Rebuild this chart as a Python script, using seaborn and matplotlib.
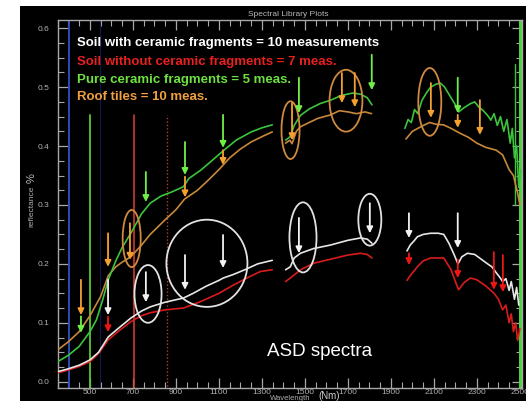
import numpy as np
import pandas as pd
import matplotlib
matplotlib.use("Agg")
import matplotlib.pyplot as plt
import seaborn as sns
from matplotlib.patches import Ellipse, Rectangle
from matplotlib.ticker import FixedLocator, MultipleLocator

# ---------------- data ----------------
series_names = ["Soil with ceramic fragments", "Soil without ceramic fragments",
                "Pure ceramic fragments", "Roof tiles"]
legend_labels = ["Soil with ceramic fragments = 10 measurements",
                 "Soil without ceramic fragments = 7 meas.",
                 "Pure ceramic fragments = 5 meas.",
                 "Roof tiles = 10 meas."]

# Roof tiles (orange)
orange_nm1 = [350, 400, 450, 500, 550, 585, 620, 650, 690, 740, 780, 850, 900, 940, 1000, 1050, 1100, 1120, 1150, 1200, 1250, 1300, 1348]
orange_r1 = [0.054, 0.068, 0.085, 0.112, 0.145, 0.180, 0.195, 0.203, 0.212, 0.232, 0.250, 0.275, 0.292, 0.310, 0.325, 0.342, 0.360, 0.368, 0.380, 0.395, 0.407, 0.416, 0.424]
orange_nm2 = [1410, 1430, 1440, 1460, 1480, 1520, 1560, 1620, 1660, 1700, 1740, 1780, 1810]
orange_r2 = [0.405, 0.410, 0.404, 0.425, 0.433, 0.440, 0.447, 0.453, 0.460, 0.458, 0.455, 0.458, 0.455]
orange_nm3 = [1970, 2000, 2040, 2080, 2110, 2145, 2180, 2220, 2260, 2300, 2340, 2390, 2420, 2450, 2470, 2490, 2500]
orange_r3 = [0.412, 0.425, 0.433, 0.440, 0.437, 0.436, 0.430, 0.422, 0.415, 0.405, 0.398, 0.393, 0.385, 0.360, 0.350, 0.320, 0.300]

# Pure ceramic fragments (green)
green_nm1 = [350, 400, 450, 500, 530, 560, 585, 620, 650, 690, 740, 780, 830, 880, 935, 960, 1015, 1060, 1120, 1180, 1250, 1300, 1348]
green_r1 = [0.034, 0.045, 0.060, 0.085, 0.105, 0.140, 0.173, 0.205, 0.228, 0.252, 0.285, 0.303, 0.315, 0.322, 0.331, 0.345, 0.359, 0.373, 0.392, 0.410, 0.424, 0.431, 0.436]
green_nm2 = [1410, 1432, 1450, 1479, 1520, 1570, 1620, 1670, 1723, 1760, 1790, 1812]
green_r2 = [0.410, 0.416, 0.435, 0.452, 0.463, 0.472, 0.478, 0.486, 0.490, 0.488, 0.482, 0.470]
green_nm3 = [1965, 1980, 1995, 2010, 2025, 2045, 2065, 2085, 2110, 2130, 2150, 2175, 2200, 2215, 2240, 2270, 2290, 2310, 2330, 2350, 2365, 2380, 2395, 2410, 2425, 2440, 2455, 2465, 2475, 2485, 2495, 2505]
green_r3 = [0.430, 0.445, 0.440, 0.462, 0.455, 0.478, 0.490, 0.500, 0.505, 0.507, 0.500, 0.485, 0.470, 0.458, 0.465, 0.472, 0.475, 0.466, 0.460, 0.452, 0.444, 0.455, 0.435, 0.450, 0.425, 0.445, 0.405, 0.430, 0.380, 0.400, 0.330, 0.360]

# Soil with ceramic fragments (white)
white_nm1 = [350, 400, 450, 500, 540, 585, 630, 690, 740, 780, 850, 935, 980, 1015, 1040, 1100, 1120, 1167, 1220, 1280, 1348]
white_r1 = [0.017, 0.022, 0.028, 0.037, 0.050, 0.076, 0.090, 0.108, 0.120, 0.127, 0.135, 0.142, 0.150, 0.157, 0.162, 0.172, 0.176, 0.182, 0.190, 0.200, 0.206]
white_nm2 = [1410, 1432, 1450, 1479, 1540, 1619, 1700, 1758, 1790, 1812]
white_r2 = [0.190, 0.195, 0.210, 0.218, 0.226, 0.232, 0.240, 0.244, 0.242, 0.235]
white_nm3 = [1975, 1990, 2010, 2023, 2050, 2085, 2120, 2146, 2170, 2195, 2212, 2230, 2256, 2290, 2320, 2350, 2370, 2390, 2405, 2420, 2435, 2450, 2460, 2475, 2485, 2495]
white_r3 = [0.222, 0.232, 0.240, 0.246, 0.250, 0.252, 0.252, 0.250, 0.235, 0.215, 0.200, 0.212, 0.218, 0.216, 0.208, 0.200, 0.195, 0.185, 0.178, 0.170, 0.175, 0.155, 0.170, 0.140, 0.160, 0.130]

# Soil without ceramic fragments (red)
red_nm1 = [350, 400, 450, 500, 540, 585, 630, 690, 740, 780, 850, 935, 1015, 1100, 1167, 1230, 1292, 1348]
red_r1 = [0.015, 0.020, 0.026, 0.034, 0.048, 0.071, 0.085, 0.102, 0.112, 0.117, 0.122, 0.125, 0.136, 0.150, 0.164, 0.176, 0.187, 0.190]
red_nm2 = [1410, 1432, 1480, 1540, 1620, 1700, 1758, 1790, 1812]
red_r2 = [0.170, 0.176, 0.190, 0.201, 0.208, 0.215, 0.218, 0.216, 0.210]
red_nm3 = [1975, 1990, 2023, 2050, 2085, 2146, 2180, 2200, 2215, 2240, 2270, 2300, 2340, 2380, 2400, 2420, 2435, 2450, 2460, 2470, 2480, 2490, 2500]
red_r3 = [0.172, 0.180, 0.195, 0.205, 0.210, 0.210, 0.190, 0.170, 0.156, 0.168, 0.176, 0.173, 0.163, 0.150, 0.140, 0.122, 0.130, 0.100, 0.115, 0.085, 0.100, 0.070, 0.090]

# annotation arrows: wavelength, start reflectance, end reflectance, kind
arrow_nm = [458, 458, 584, 584, 584, 686, 760, 760, 942, 942, 942, 1119, 1119, 1119,
            1440, 1472, 1672, 1732, 1811, 1472, 1802, 2086, 2211, 2211, 2314,
            1984, 1984, 2211, 2211, 2379, 2421]
arrow_y0 = [0.173, 0.111, 0.252, 0.173, 0.110, 0.269, 0.356, 0.186, 0.407, 0.348, 0.215, 0.453, 0.393, 0.249,
            0.473, 0.516, 0.524, 0.524, 0.555, 0.278, 0.303, 0.507, 0.516, 0.453, 0.478,
            0.286, 0.218, 0.286, 0.207, 0.220, 0.215]
arrow_y1 = [0.113, 0.083, 0.195, 0.113, 0.084, 0.207, 0.305, 0.135, 0.351, 0.313, 0.156, 0.397, 0.368, 0.193,
            0.410, 0.456, 0.473, 0.466, 0.495, 0.218, 0.252, 0.448, 0.456, 0.431, 0.419,
            0.244, 0.198, 0.227, 0.176, 0.156, 0.152]
arrow_kind = ["o", "g", "o", "w", "r", "o", "g", "w", "g", "o", "w", "g", "o", "w",
              "o", "g", "o", "o", "g", "w", "w", "o", "g", "o", "o",
              "w", "r", "w", "r", "r", "r"]

# ellipses: centre wavelength, centre reflectance, width (nm), height, kind
ell_nm = [694, 770, 1044, 1433, 1691, 1491, 1802, 2081]
ell_r = [0.243, 0.149, 0.201, 0.427, 0.477, 0.245, 0.275, 0.475]
ell_w = [84, 126, 377, 84, 153, 126, 107, 107]
ell_h = [0.097, 0.098, 0.148, 0.098, 0.105, 0.119, 0.088, 0.115]
ell_kind = ["o", "w", "w", "o", "o", "w", "w", "o"]

x_major = [500, 700, 900, 1100, 1300, 1500, 1700, 1900, 2100, 2300, 2500]
y_major = [0.0, 0.1, 0.2, 0.3, 0.4, 0.5, 0.6]

# ---------------- styling ----------------
line_colors = {"Soil with ceramic fragments": "#e6e6e6",
               "Soil without ceramic fragments": "#d81c1c",
               "Pure ceramic fragments": "#3cc43c",
               "Roof tiles": "#c8883a"}
mark_colors = {"o": "#f4a030", "g": "#70ee48", "w": "#f2f2f2", "r": "#ee1515"}
ell_colors = {"o": "#d08a40", "w": "#e2e2e2"}
text_colors = ["#ffffff", "#e82020", "#6ee040", "#f0a040"]

sns.set_theme(style="dark")
plt.rcParams["font.family"] = ["Liberation Sans", "DejaVu Sans"]

rows = []
groups = [
    ("Roof tiles", [(orange_nm1, orange_r1), (orange_nm2, orange_r2), (orange_nm3, orange_r3)]),
    ("Pure ceramic fragments", [(green_nm1, green_r1), (green_nm2, green_r2), (green_nm3, green_r3)]),
    ("Soil without ceramic fragments", [(red_nm1, red_r1), (red_nm2, red_r2), (red_nm3, red_r3)]),
    ("Soil with ceramic fragments", [(white_nm1, white_r1), (white_nm2, white_r2), (white_nm3, white_r3)]),
]
for name, segs in groups:
    for si, (xs, ys) in enumerate(segs):
        for xv, yv in zip(xs, ys):
            rows.append({"nm": xv, "refl": yv, "series": name, "seg": f"{name}-{si}"})
df = pd.DataFrame(rows)

W, H = 526, 401
fig = plt.figure(figsize=(W / 100, H / 100), dpi=100, facecolor="white")
bg = Rectangle((20 / W, 0), 1 - 20 / W, (H - 6) / H, transform=fig.transFigure,
               facecolor="black", edgecolor="none", zorder=-10)
fig.patches.append(bg)
ax = fig.add_axes([57.75 / W, 13 / H, (522 - 57.75) / W, (388 - 20) / H])
ax.set_zorder(1)
ax.set_facecolor("black")

# vertical reference lines
ax.axvline(402, color="#3050c8", lw=1.3, zorder=1)
ax.axvline(547, color="#101850", lw=0.8, zorder=1)
ax.plot([502, 502], [-0.02, 0.453], color="#58c838", lw=1.3, zorder=1)
ax.plot([705, 705], [-0.02, 0.453], color="#e04030", lw=1.1, zorder=1)
ax.plot([860, 860], [-0.02, 0.453], color="#b04030", lw=1.0, ls=(0, (1, 1.5)), zorder=1)
ax.plot([2478, 2478], [0.30, 0.54], color="#40c040", lw=1.0, zorder=1)
ax.axvline(2503, color="#50d040", lw=2.2, zorder=1)

sns.lineplot(data=df, x="nm", y="refl", hue="series", units="seg", estimator=None,
             palette=line_colors, lw=1.2, legend=False, ax=ax, zorder=3)

for x, y0, y1, k in zip(arrow_nm, arrow_y0, arrow_y1, arrow_kind):
    ax.annotate("", xy=(x, y1), xytext=(x, y0),
                arrowprops=dict(arrowstyle="-|>", color=mark_colors[k], lw=1.3,
                                mutation_scale=9, shrinkA=0, shrinkB=0), zorder=5)

for x, y, w, h, k in zip(ell_nm, ell_r, ell_w, ell_h, ell_kind):
    ax.add_patch(Ellipse((x, y), w, h, fill=False, edgecolor=ell_colors[k], lw=1.3, zorder=4))

ax.set_xlim(350, 2510)
ax.set_ylim(-0.0107, 0.614)
ax.set_xlabel("")
ax.set_ylabel("")
ax.grid(False)
for s in ax.spines.values():
    s.set_visible(True)
    s.set_color("#a8a8a8")
    s.set_linewidth(1.0)
ax.xaxis.set_major_locator(FixedLocator(x_major))
ax.xaxis.set_minor_locator(MultipleLocator(50))
ax.yaxis.set_major_locator(FixedLocator(y_major))
ax.yaxis.set_minor_locator(MultipleLocator(0.025))
ax.set_yticklabels([f"{v:.1f}" for v in y_major])
ax.tick_params(which="both", direction="in", colors="#a8a8a8", top=True, right=True,
               bottom=True, left=True, labelsize=6, labelcolor="#b0b0b0")
ax.tick_params(which="major", length=7, width=0.9)
ax.tick_params(which="minor", length=4, width=0.8)
ax.tick_params(axis="y", pad=6)
ax.tick_params(axis="x", pad=1)

fig.text(288 / W, 1 - 14 / H, "Spectral Library Plots", color="#b8b8b8", fontsize=6,
         ha="center", va="center")
fig.text(32 / W, 1 - 206 / H, "reflectance", color="#b0b0b0", fontsize=6,
         rotation=90, ha="center", va="center")
fig.text(32 / W, 1 - 178 / H, "%", color="#c0c0c0", fontsize=8,
         rotation=90, ha="center", va="center")
fig.text(290 / W, 1 - 398 / H, "Wavelength", color="#b0b0b0", fontsize=5.5, ha="center", va="center")
fig.text(329 / W, 1 - 396 / H, "(Nm)", color="#d0d0d0", fontsize=7, ha="center", va="center")

legend_y = [43, 62, 80, 97]
for lab, col, yy in zip(legend_labels, text_colors, legend_y):
    fig.text(77 / W, 1 - yy / H, lab, color=col, fontsize=9.5, fontweight="bold",
             ha="left", va="center")

fig.text(267 / W, 1 - 352 / H, "ASD spectra", color="white", fontsize=13.5,
         ha="left", va="center")

fig.savefig("out.png", dpi=100, facecolor=fig.get_facecolor())
